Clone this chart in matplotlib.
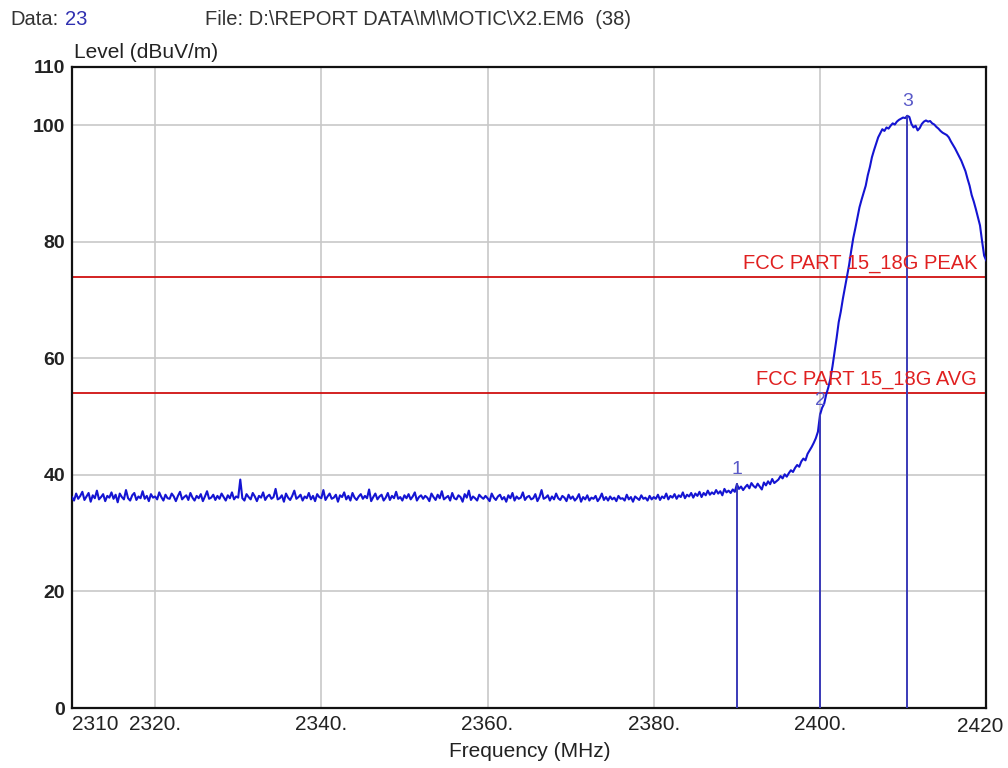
import numpy as np
import matplotlib
matplotlib.use("Agg")
import matplotlib.pyplot as plt

plt.rcParams["font.family"] = ["Liberation Sans", "DejaVu Sans"]

# sweep trace, 0.25 MHz steps from 2310 to 2420 MHz (dBuV/m)
level = [
    36.2, 35.6, 36.8, 35.9, 36.4, 37.1, 35.7, 36.3, 36.9, 35.4, 36.5, 36.0, 37.3, 35.8, 36.2, 36.7, 35.5, 36.4, 36.1, 37.0,
    35.9, 36.6, 35.3, 36.8, 36.2, 35.8, 37.4, 36.0, 35.6, 36.5, 36.9, 35.7, 36.3, 36.0, 37.2, 35.9, 36.4, 35.5, 36.7, 36.1,
    36.3, 35.8, 37.0, 36.2, 35.6, 36.6, 36.0, 35.9, 36.8, 36.3, 35.5, 36.4, 37.1, 35.8, 36.2, 36.5, 35.7, 36.9, 36.1, 35.6,
    36.4, 36.0, 36.7, 35.5, 36.3, 37.2, 35.9, 36.1, 36.6, 35.7, 36.4, 35.9, 36.8, 36.2, 35.6, 36.5, 36.0, 37.0, 35.8, 36.3,
    36.1, 39.2, 36.0, 35.6, 36.7, 36.2, 35.8, 36.9, 36.3, 35.5, 36.4, 36.1, 37.0, 35.7, 36.3, 36.6, 35.9, 36.2, 37.6, 35.8,
    36.0, 36.5, 35.4, 36.8, 36.1, 35.7, 36.4, 37.3, 35.9, 36.2, 36.6, 35.6, 36.3, 36.0, 36.9, 35.8, 36.4, 35.5, 36.7, 36.2,
    36.0, 37.4, 35.7, 36.3, 36.8, 35.9, 36.1, 36.6, 35.4, 36.5, 36.2, 37.0, 35.8, 36.4, 35.6, 36.9, 36.1, 35.7, 36.3, 36.7,
    35.9, 36.4, 36.0, 37.5, 35.5, 36.2, 36.8, 35.8, 36.3, 36.6, 35.6, 36.1, 36.9, 35.7, 36.4, 36.0, 37.1, 35.9, 36.2, 35.6,
    36.5, 36.0, 36.7, 35.8, 36.3, 37.0, 35.6, 36.2, 36.5, 35.9, 36.4, 36.1, 35.5, 36.8, 36.2, 35.7, 36.6, 36.0, 37.2, 35.8,
    36.1, 36.4, 35.6, 36.9, 36.0, 35.8, 36.5, 36.2, 35.4, 36.7, 36.1, 37.3, 35.7, 36.3, 36.0, 35.6, 36.6, 36.2, 35.9, 36.4,
    36.0, 35.5, 36.8, 36.1, 35.7, 36.3, 36.6, 35.8, 36.2, 35.4, 36.5, 36.0, 36.9, 35.6, 36.3, 35.9, 36.1, 37.0, 35.7, 36.2,
    36.4, 35.8, 36.0, 36.7, 35.5, 36.2, 37.4, 35.9, 36.1, 36.5, 35.6, 36.3, 35.8, 36.8, 36.0, 35.7, 36.4, 36.1, 35.5, 36.6,
    35.9, 36.3, 35.6, 36.0, 36.7, 35.4, 36.2, 35.8, 36.5, 35.6, 36.1, 35.9, 36.4, 35.5, 36.0, 36.8, 35.7, 36.2, 35.6, 36.3,
    35.8, 36.1, 35.5, 36.4, 35.9, 36.0, 35.6, 36.6, 35.8, 36.2, 35.4, 36.3, 36.0, 35.7, 36.5, 35.9, 36.1, 35.6, 36.4, 35.8,
    36.2, 35.9, 36.6, 35.7, 36.3, 36.0, 36.8, 35.8, 36.4, 36.1, 36.7, 35.9, 36.5, 36.2, 37.0, 36.0, 36.6, 36.3, 36.9, 36.1,
    36.8, 36.4, 37.1, 36.2, 36.9, 36.5, 37.3, 36.6, 37.0, 36.7, 37.4, 36.8, 37.2, 36.5, 37.6, 37.0, 37.3, 36.9, 37.5, 37.1,
    38.4, 37.6, 38.0, 37.4, 37.9, 38.3, 37.7, 38.6, 38.1, 37.8, 38.5, 38.0, 37.5, 38.7, 38.2, 38.9, 38.4, 39.3, 38.6, 38.9,
    39.2, 39.8, 39.4, 40.1, 39.7, 40.3, 40.8, 40.5, 41.2, 41.7, 41.4, 42.3, 42.8, 42.5, 43.6, 44.2, 44.8, 45.5, 46.3, 47.4,
    50.3, 51.5, 52.2, 53.8, 55.0, 56.5, 58.6, 61.0, 63.5, 66.2, 68.0, 70.2, 72.1, 73.9, 76.0, 78.4, 80.6, 82.3, 84.1, 85.9,
    87.2, 88.4, 89.6, 91.4, 92.8, 94.5, 95.7, 96.8, 97.9, 98.6, 99.3, 99.0, 99.6, 99.4, 99.9, 100.3, 100.1, 100.6, 100.9, 101.1,
    101.3, 101.2, 101.6, 101.4, 100.2, 99.6, 99.9, 99.1, 99.5, 100.2, 100.6, 100.8, 100.6, 100.7, 100.3, 100.1, 99.7, 99.4, 99.0, 98.7,
    98.5, 98.3, 97.9, 97.2, 96.6, 96.0, 95.3, 94.6, 93.9, 93.0, 92.1, 90.8, 89.6, 88.0, 86.9, 85.6, 84.2, 82.8, 80.1, 77.6,
    76.8,
]
freq = np.linspace(2310, 2420, len(level))

# markers
mk_freq = [2390, 2400, 2410.5]
mk_level = [38.4, 50.3, 101.6]
mk_name = ["1", "2", "3"]

# limit lines
limit_name = ["FCC PART 15_18G PEAK", "FCC PART 15_18G AVG"]
limit_level = [74, 54]

xticks = [2310, 2320, 2340, 2360, 2380, 2400, 2420]
xticklabels = ["2310", "2320.", "2340.", "2360.", "2380.", "2400.", ""]
yticks = [0, 20, 40, 60, 80, 100, 110]

fig = plt.figure(figsize=(10.08, 7.68), dpi=100)
ax = fig.add_axes([0.0714, 0.078, 0.907, 0.835])
ax.set_xlim(2310, 2420)
ax.set_ylim(0, 110)

for x in [2320, 2340, 2360, 2380, 2400]:
    ax.axvline(x, color="#c8c8c8", lw=1.2, zorder=0)
for y in [20, 40, 60, 80, 100]:
    ax.axhline(y, color="#c8c8c8", lw=1.2, zorder=0)

for name, lv in zip(limit_name, limit_level):
    ax.axhline(lv, color="#d01010", lw=1.3, zorder=2)
    ax.text(2418.9, lv + 0.7, name, color="#e02020", fontsize=14.5,
            ha="right", va="bottom", zorder=4)

ax.plot(freq, level, color="#1414d2", lw=1.5, zorder=3)

for f, lv, n in zip(mk_freq, mk_level, mk_name):
    ax.plot([f, f], [0, lv], color="#3a3ab8", lw=1.4, zorder=3)
    ax.text(f, lv + 1.0, n, color="#5a5ac8", fontsize=14, ha="center", va="bottom", zorder=4)

ax.set_xticks(xticks)
ax.set_xticklabels(xticklabels, fontsize=15, color="#222")
ax.get_xticklabels()[0].set_horizontalalignment("left")
# last frequency label sits a little right of the frame edge
fig.text(0.995, 0.0535, "2420", fontsize=15, color="#222", ha="right", va="center")
ax.set_yticks(yticks)
ax.set_yticklabels([str(v) for v in yticks], fontsize=14, fontweight="bold", color="#222")
ax.tick_params(length=0, pad=5)
for s in ax.spines.values():
    s.set_color("#111")
    s.set_linewidth(1.6)

fig.text(0.01, 0.974, "Data:", fontsize=14.5, color="#333", va="center")
fig.text(0.064, 0.974, "23", fontsize=14.5, color="#3030b0", va="center")
fig.text(0.203, 0.974, "File: D:\\REPORT DATA\\M\\MOTIC\\X2.EM6  (38)", fontsize=14.5,
         color="#333", va="center")
fig.text(0.073, 0.932, "Level (dBuV/m)", fontsize=15, color="#222", va="center")
fig.text(0.526, 0.021, "Frequency (MHz)", fontsize=15, color="#222", ha="center", va="center")

fig.savefig("out.png", dpi=100)
